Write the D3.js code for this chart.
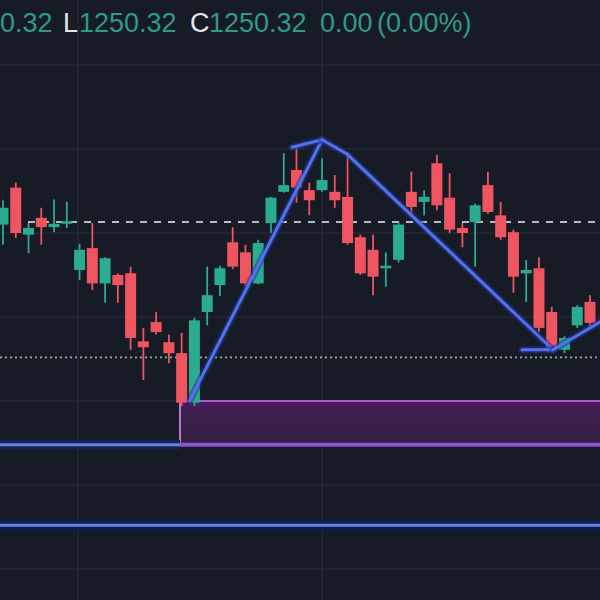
<!DOCTYPE html>
<html><head><meta charset="utf-8">
<script src="https://cdn.jsdelivr.net/npm/d3@7"></script>
<style>html,body{margin:0;padding:0;background:#171b26;overflow:hidden}</style>
</head><body><svg id="c" width="600" height="600"></svg>
<script>
// OHLC candles (index order)
const opens  = [1261.0,1265.4,1259.8,1261.8,1260.7,1261.1,1255.6,1258.2,1254.0,1255.0,1255.2,1247.1,1249.4,1247.0,1245.7,1239.8,1250.6,1253.8,1258.9,1257.7,1254.0,1261.2,1264.9,1267.5,1265.1,1265.1,1264.9,1264.3,1259.5,1258.0,1255.8,1256.8,1264.9,1263.7,1268.3,1264.2,1260.6,1261.3,1265.7,1262.1,1260.1,1255.2,1255.8,1250.6,1246.1,1249.0,1251.8];
const highs  = [1263.9,1266.0,1261.2,1263.0,1264.0,1263.7,1258.7,1261.2,1257.1,1255.2,1256.0,1248.7,1250.6,1247.9,1248.1,1249.9,1256.0,1256.1,1260.7,1258.6,1259.2,1264.3,1269.5,1270.2,1266.0,1268.9,1266.9,1269.6,1259.8,1259.8,1257.7,1261.3,1267.3,1265.1,1269.3,1267.1,1261.2,1263.5,1267.3,1263.7,1260.4,1256.8,1257.1,1251.2,1247.7,1251.4,1252.6];
const lows   = [1258.6,1259.4,1257.6,1258.6,1260.1,1260.6,1254.4,1253.2,1251.7,1251.7,1246.1,1242.5,1247.9,1244.5,1239.4,1239.4,1249.0,1252.5,1255.7,1253.7,1253.9,1260.0,1264.8,1263.6,1262.1,1264.9,1263.0,1258.6,1255.0,1252.6,1253.6,1256.5,1262.1,1262.1,1262.7,1260.0,1258.3,1256.0,1262.3,1259.2,1252.9,1251.8,1248.2,1245.8,1245.7,1248.7,1248.7];
const closes = [1263.0,1260.0,1260.6,1260.7,1261.1,1261.4,1258.0,1254.0,1257.0,1253.8,1247.5,1246.4,1248.2,1245.7,1239.8,1249.6,1252.6,1255.8,1256.0,1254.0,1258.8,1264.2,1265.7,1265.4,1263.9,1266.3,1263.9,1258.8,1255.2,1254.8,1256.1,1261.0,1263.1,1264.3,1263.3,1260.4,1260.0,1263.3,1262.5,1259.5,1254.8,1255.6,1248.7,1246.1,1247.5,1251.2,1249.3];

// price grid levels and vertical grid (candle index)
const gridPrices = [1280,1270,1260,1250,1240,1230,1220];
const gridIdx = [5.9, 25];

// horizontal levels
const lastPrice = 1261.3;      // dashed
const dottedLevel = 1245.2;    // dotted
const blueLevelA = 1234.8;     // left blue line (ends at zone start)
const blueLevelB = 1225.2;     // full-width blue line
const zoneTop = 1240.0, zoneBottom = 1234.8, zoneStartIdx = 13.87;

// zigzag drawing points [index, price]
const zigUp   = [[14.65,1240.1],[25.0,1271.1]];
const zigArm  = [[22.65,1270.2],[25.0,1271.1]];
const zigDown = [[25.0,1271.1],[26.96,1269.4],[43.1,1246.1]];
const zigFlat = [[40.67,1246.1],[43.1,1246.1]];
const zigUp2  = [[43.1,1246.1],[46.79,1249.4]];

// header text parts (left part of the line is cut by the chart edge)
const headerParts = [["0.32","val"],["L","lbl"],["1250.32","val"],["C","lbl"],["1250.32","val"],["0.00","val"],["(0.00%)","val"]];
const headerX = [0,63,79,190,209,320,377];

const W=600,H=600;
const svg=d3.select("#c");
const x=d3.scaleLinear().domain([0,46]).range([3,590]);
const y=d3.scaleLinear().domain([1220,1280]).range([569,65]);

svg.append("rect").attr("width",W).attr("height",H).attr("fill","#171b26");

// grid
svg.append("g").selectAll("line").data(gridPrices).join("line")
  .attr("x1",0).attr("x2",W).attr("y1",d=>y(d)).attr("y2",d=>y(d))
  .attr("stroke","#242835").attr("stroke-width",1.5);
svg.append("g").selectAll("line").data(gridIdx).join("line")
  .attr("y1",0).attr("y2",H).attr("x1",d=>x(d)).attr("x2",d=>x(d))
  .attr("stroke","#242835").attr("stroke-width",1.5);

// zone
const zx=x(zoneStartIdx);
const defs=svg.append("defs");
const gr=defs.append("linearGradient").attr("id","zg").attr("x1",0).attr("x2",0).attr("y1",0).attr("y2",1);
gr.append("stop").attr("offset","0%").attr("stop-color","#4a1a5e");
gr.append("stop").attr("offset","35%").attr("stop-color","#3a1f4c");
gr.append("stop").attr("offset","100%").attr("stop-color","#33203f");
svg.append("rect").attr("x",zx).attr("y",y(zoneTop)).attr("width",W-zx).attr("height",y(zoneBottom)-y(zoneTop))
  .attr("fill","url(#zg)");
svg.append("line").attr("x1",zx).attr("x2",W).attr("y1",y(zoneTop)).attr("y2",y(zoneTop))
  .attr("stroke","#a55fc0").attr("stroke-width",2);
svg.append("line").attr("x1",zx).attr("x2",zx).attr("y1",y(zoneTop)).attr("y2",y(zoneBottom))
  .attr("stroke","#b779c8").attr("stroke-width",2);
svg.append("line").attr("x1",zx).attr("x2",W).attr("y1",y(zoneBottom)).attr("y2",y(zoneBottom))
  .attr("stroke","#8d55d0").attr("stroke-width",4);

// blue levels
function glowLine(x1,x2,yy,halo){
  svg.append("line").attr("x1",x1).attr("x2",x2).attr("y1",yy).attr("y2",yy)
    .attr("stroke",halo).attr("stroke-width",10);
  svg.append("line").attr("x1",x1).attr("x2",x2).attr("y1",yy).attr("y2",yy)
    .attr("stroke","#6483e4").attr("stroke-width",3);
}
glowLine(0,zx,y(blueLevelA),"#14224f");
glowLine(0,W,y(blueLevelB),"#0f1d50");

// dashed and dotted levels
svg.append("line").attr("x1",0).attr("x2",W).attr("y1",y(lastPrice)).attr("y2",y(lastPrice))
  .attr("stroke","#b8bcc4").attr("stroke-width",2).attr("stroke-dasharray","7,7");
svg.append("line").attr("x1",0).attr("x2",W).attr("y1",y(dottedLevel)).attr("y2",y(dottedLevel))
  .attr("stroke","#93b0a6").attr("stroke-width",1.8).attr("stroke-dasharray","2,3");

// candles
const idx=d3.range(opens.length);
const up="#2bab8f", dn="#ef5560";
const g=svg.append("g");
g.selectAll("line").data(idx).join("line")
  .attr("x1",i=>x(i)).attr("x2",i=>x(i)).attr("y1",i=>y(highs[i])).attr("y2",i=>y(lows[i]))
  .attr("stroke",i=>closes[i]>=opens[i]?up:dn).attr("stroke-width",1.8);
g.selectAll("rect").data(idx).join("rect")
  .attr("x",i=>x(i)-5.5).attr("width",11)
  .attr("y",i=>y(Math.max(opens[i],closes[i])))
  .attr("height",i=>Math.max(2.5,Math.abs(y(opens[i])-y(closes[i]))))
  .attr("fill",i=>closes[i]>=opens[i]?up:dn);

// zigzag
const ln=d3.line().x(d=>x(d[0])).y(d=>y(d[1]));
[zigUp,zigArm,zigDown,zigFlat,zigUp2].forEach(p=>{
  svg.append("path").attr("d",ln(p)).attr("fill","none").attr("stroke","#23359a").attr("stroke-width",7).attr("stroke-opacity",0.55).attr("stroke-linecap","round");
  svg.append("path").attr("d",ln(p)).attr("fill","none").attr("stroke","#5373ea").attr("stroke-width",3).attr("stroke-linecap","round");
});

// header
const font="'Liberation Sans', Arial, sans-serif";
svg.append("g").selectAll("text").data(headerParts).join("text")
  .attr("x",(d,i)=>headerX[i]).attr("y",32)
  .attr("font-family",font).attr("font-size",27)
  .attr("fill",d=>d[1]==="lbl"?"#e3e5ea":"#2f9a87")
  .text(d=>d[0]);
</script></body></html>
